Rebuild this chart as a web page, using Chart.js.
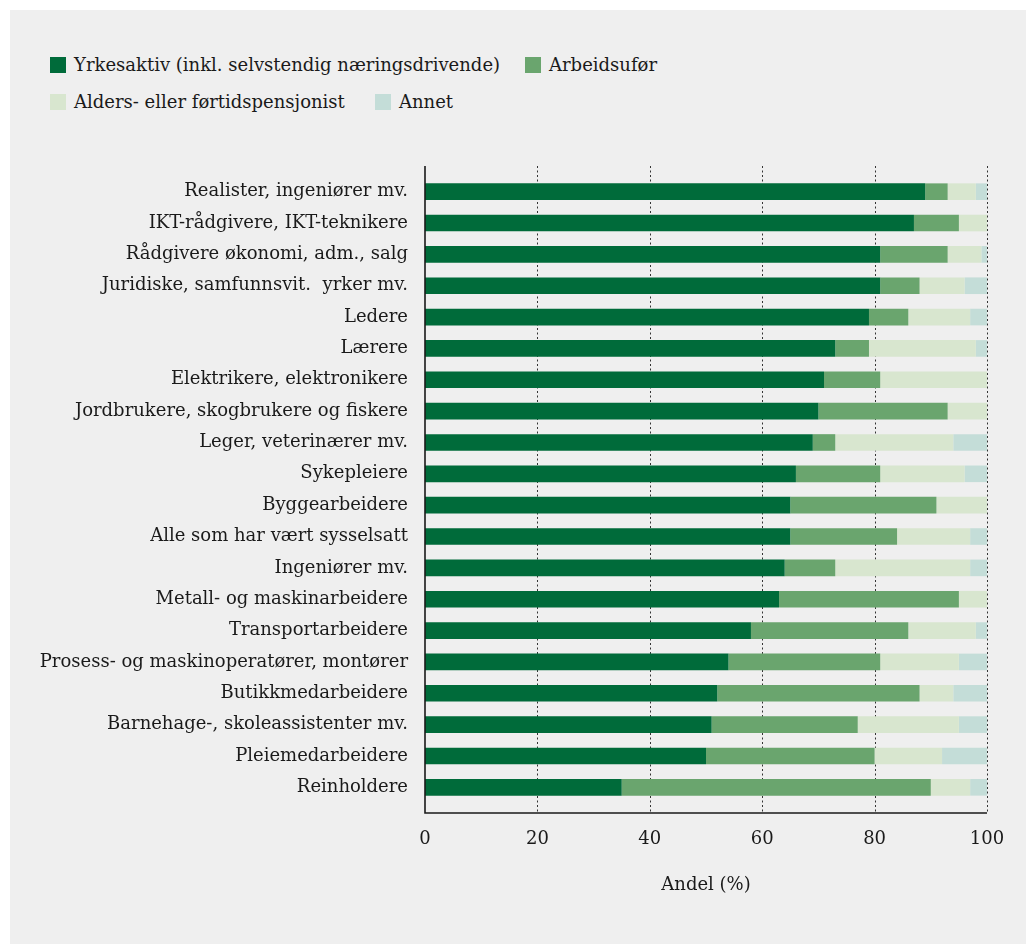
<!DOCTYPE html>
<html>
<head>
<meta charset="utf-8">
<script src="https://cdn.jsdelivr.net/npm/chart.js@4"></script>
<style>
  html, body { margin: 0; padding: 0; background: #ffffff; }
  #panel {
    position: absolute; left: 10px; top: 10px;
    width: 1016px; height: 934px;
    background: #efefef;
  }
  #wrap { position: absolute; left: 0; top: 0; width: 1026px; height: 944px; }
  #legend {
    position: absolute; left: 50px; top: 46px;
    font-family: 'DejaVu Serif', serif; font-size: 18px; color: #1a1a1a;
  }
  .row { display: flex; height: 37px; align-items: center; }
  .item { display: flex; align-items: center; }
  .item .sw { width: 16px; height: 16px; margin-right: 8px; }
  .row .item:first-child { width: 475px; }
  .row.second .item:first-child { width: 325px; }
</style>
</head>
<body>
<div id="panel"></div>
<div id="legend"></div>
<div id="wrap"><canvas id="myChart" width="1026" height="944"></canvas></div>
<script>
// --- Data ---
const categories = [
  'Realister, ingeniører mv.',
  'IKT-rådgivere, IKT-teknikere',
  'Rådgivere økonomi, adm., salg',
  'Juridiske, samfunnsvit.  yrker mv.',
  'Ledere',
  'Lærere',
  'Elektrikere, elektronikere',
  'Jordbrukere, skogbrukere og fiskere',
  'Leger, veterinærer mv.',
  'Sykepleiere',
  'Byggearbeidere',
  'Alle som har vært sysselsatt',
  'Ingeniører mv.',
  'Metall- og maskinarbeidere',
  'Transportarbeidere',
  'Prosess- og maskinoperatører, montører',
  'Butikkmedarbeidere',
  'Barnehage-, skoleassistenter mv.',
  'Pleiemedarbeidere',
  'Reinholdere'
];

const yrkesaktiv = [89, 87, 81, 81, 79, 73, 71, 70, 69, 66, 65, 65, 64, 63, 58, 54, 52, 51, 50, 35];
const arbeidsufor = [4, 8, 12, 7, 7, 6, 10, 23, 4, 15, 26, 19, 9, 32, 28, 27, 36, 26, 30, 55];
const pensjonist = [5, 5, 6, 8, 11, 19, 19, 7, 21, 15, 9, 13, 24, 5, 12, 14, 6, 18, 12, 7];
const annet = [2, 0, 1, 4, 3, 2, 0, 0, 6, 4, 0, 3, 3, 0, 2, 5, 6, 5, 8, 3];

const seriesNames = [
  'Yrkesaktiv (inkl. selvstendig næringsdrivende)',
  'Arbeidsufør',
  'Alders- eller førtidspensjonist',
  'Annet'
];
const xTicks = [0, 20, 40, 60, 80, 100];
const xTitle = 'Andel (%)';

// --- Styles ---
const colors = ['#006b3a', '#6aa56e', '#d8e6cf', '#c4ddd8'];
const labelFont = { family: "'DejaVu Serif', serif", size: 18 };
const EXT = 10; // axis lines reach a bit past the bars

// --- HTML legend, two rows like the original ---
const legendEl = document.getElementById('legend');
[[0, 1], [2, 3]].forEach((idxs, r) => {
  const row = document.createElement('div');
  row.className = 'row' + (r === 1 ? ' second' : '');
  idxs.forEach(i => {
    const it = document.createElement('div');
    it.className = 'item';
    it.innerHTML = `<span class="sw" style="background:${colors[i]}"></span><span>${seriesNames[i]}</span>`;
    row.appendChild(it);
  });
  legendEl.appendChild(row);
});

// --- Grid + axis lines drawn a little longer than the chart area ---
const axisPlugin = {
  id: 'axisLines',
  beforeDatasetsDraw(chart) {
    const { ctx, chartArea: a, scales: { x } } = chart;
    ctx.save();
    ctx.strokeStyle = '#333';
    ctx.lineWidth = 1;
    ctx.setLineDash([2, 2.5]);
    xTicks.slice(1).forEach(v => {
      const px = Math.round(x.getPixelForValue(v)) + 0.5;
      ctx.beginPath();
      ctx.moveTo(px, a.top - EXT);
      ctx.lineTo(px, a.bottom + EXT);
      ctx.stroke();
    });
    ctx.restore();
  },
  afterDatasetsDraw(chart) {
    const { ctx, chartArea: a, scales: { x } } = chart;
    const x0 = x.getPixelForValue(0);
    const x1 = x.getPixelForValue(100);
    ctx.save();
    ctx.strokeStyle = '#1a1a1a';
    ctx.lineWidth = 1.6;
    ctx.beginPath();
    ctx.moveTo(x0, a.top - EXT);
    ctx.lineTo(x0, a.bottom + EXT);
    ctx.lineTo(x1, a.bottom + EXT);
    ctx.stroke();
    ctx.restore();
  }
};

// --- Chart.js setup ---
const ctx = document.getElementById('myChart').getContext('2d');
const chart = new Chart(ctx, {
  type: 'bar',
  data: {
    labels: categories,
    datasets: [yrkesaktiv, arbeidsufor, pensjonist, annet].map((d, i) => ({
      label: seriesNames[i],
      data: d,
      backgroundColor: colors[i],
      borderWidth: 0,
      categoryPercentage: 1,
      barPercentage: 0.53
    }))
  },
  options: {
    indexAxis: 'y',
    responsive: false,
    animation: false,
    layout: { padding: { left: 0, right: 39, top: 176, bottom: 45 } },
    scales: {
      x: {
        stacked: true,
        min: 0,
        max: 100,
        afterBuildTicks: s => { s.ticks = xTicks.map(v => ({ value: v })); },
        afterFit: s => { s.height = 96; },
        // invisible tick marks only reserve room above the labels
        grid: { display: false, drawTicks: true, tickLength: 22 },
        border: { display: false },
        ticks: { color: '#1a1a1a', font: labelFont, padding: 4, maxRotation: 0 },
        title: {
          display: true, text: xTitle, color: '#1a1a1a', font: labelFont,
          padding: { top: 0, bottom: 3 }
        }
      },
      y: {
        stacked: true,
        afterFit: s => { s.width = 425; },
        grid: { display: false, drawTicks: false },
        border: { display: false },
        ticks: { color: '#1a1a1a', font: labelFont, padding: 17, autoSkip: false }
      }
    },
    plugins: {
      legend: { display: false },
      tooltip: { enabled: false }
    }
  },
  plugins: [axisPlugin]
});
</script>
</body>
</html>
